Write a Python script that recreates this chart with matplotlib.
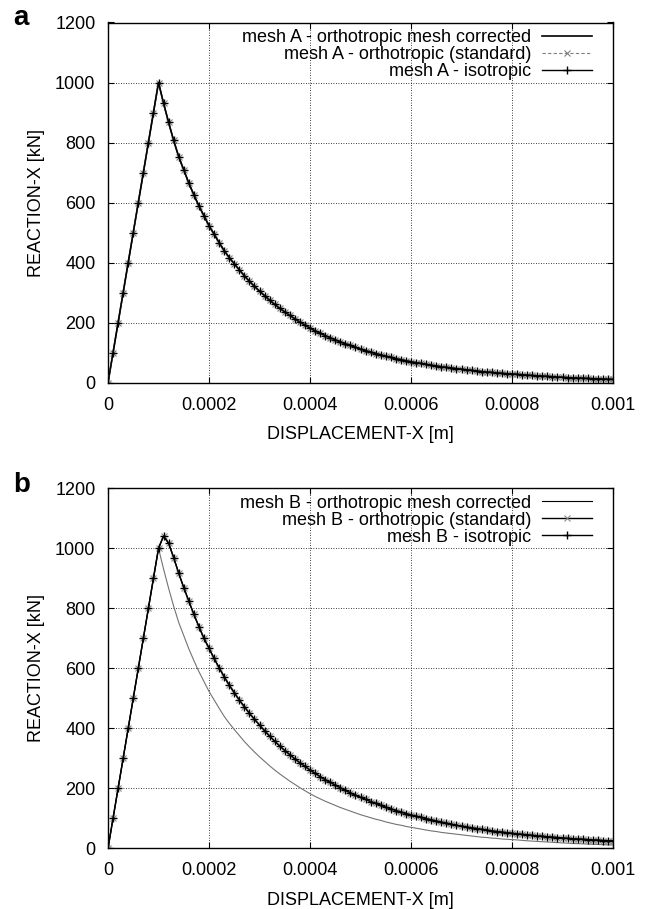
import matplotlib
matplotlib.use("Agg")
import matplotlib.pyplot as plt
import numpy as np

plt.rcParams['font.family'] = ['Liberation Sans', 'DejaVu Sans']

# ---------------- data ----------------
x_step = 1e-5
n_points = 101
displacement = [i * x_step for i in range(n_points)]

rise = [0, 100, 200, 300, 400, 500, 600, 700, 800, 900, 1000]

mesh_a_decay = [931, 867, 807, 753, 709, 665, 626, 589, 556, 523,
                495, 467, 440, 417, 396, 376, 356, 338, 321, 305,
                290, 275, 261, 248, 236, 224, 213, 202, 192, 182,
                173, 165, 157, 150, 143, 136, 130, 124, 118, 112,
                107, 102, 97, 93, 88, 84, 80, 77, 73, 70,
                67, 64, 61, 58, 56, 53, 51, 49, 47, 45,
                43, 41, 39, 37, 36, 34, 33, 31, 30, 29,
                28, 26.5, 25, 24, 23, 22, 21, 20, 19, 18,
                17, 16, 15.5, 15, 14, 13.5, 13, 12, 11.5, 11]

mesh_b_std_decay = [1041, 1017, 969, 917, 869, 824, 780, 739, 700, 667,
                    633, 602, 572, 544, 519, 494, 472, 450, 430, 411,
                    392, 374, 357, 341, 326, 312, 298, 285, 273, 261,
                    250, 239, 229, 220, 211, 202, 193, 185, 177, 170,
                    163, 156, 150, 143, 137, 132, 126, 121, 116, 111,
                    107, 103, 99, 95, 91, 87, 84, 80, 77, 74,
                    71, 68, 66, 63, 61, 58, 56, 54, 52, 50,
                    48, 46.5, 45, 43, 41.5, 40, 38.5, 37, 36, 34.5,
                    33, 32, 31, 30, 29, 28, 27, 26, 25.5, 25]

mesh_a_corrected = rise + mesh_a_decay
mesh_a_standard = rise + mesh_a_decay
mesh_a_isotropic = rise + mesh_a_decay

mesh_b_corrected = rise + mesh_a_decay
mesh_b_standard = rise + mesh_b_std_decay
mesh_b_isotropic = rise + mesh_b_std_decay

labels_a = ["mesh A - orthotropic mesh corrected",
            "mesh A - orthotropic (standard)",
            "mesh A - isotropic"]
labels_b = ["mesh B - orthotropic mesh corrected",
            "mesh B - orthotropic (standard)",
            "mesh B - isotropic"]

x_ticks = [0, 0.0002, 0.0004, 0.0006, 0.0008, 0.001]
x_ticklabels = ["0", "0.0002", "0.0004", "0.0006", "0.0008", "0.001"]
y_ticks = [0, 200, 400, 600, 800, 1000, 1200]
y_ticklabels = ["0", "200", "400", "600", "800", "1000", "1200"]

# ---------------- figure ----------------
W, H = 653, 909
fig = plt.figure(figsize=(W / 100, H / 100), dpi=100)

def px_axes(left, top, right, bottom):
    return fig.add_axes([left / W, 1 - bottom / H, (right - left) / W, (bottom - top) / H])

ax_a = px_axes(108, 22.5, 613, 382.7)
ax_b = px_axes(108, 488.3, 613, 848.3)

fs = 13

def style(ax):
    ax.set_xlim(0, 0.001)
    ax.set_ylim(0, 1200)
    ax.set_xticks(x_ticks)
    ax.set_xticklabels(x_ticklabels)
    ax.set_yticks(y_ticks)
    ax.set_yticklabels(y_ticklabels)
    ax.tick_params(direction='in', length=4, width=0.8, top=True, right=True,
                   labelsize=fs, colors='black')
    ax.tick_params(axis='x', pad=10)
    ax.tick_params(axis='y', pad=9)
    ax.grid(True, color='black', linestyle=(0, (1, 2)), linewidth=0.6)
    for s in ax.spines.values():
        s.set_linewidth(1.0)
        s.set_color('black')
    ax.set_xlabel("DISPLACEMENT-X [m]", fontsize=fs, labelpad=9)
    ax.set_ylabel("REACTION-X [kN]", fontsize=fs, labelpad=7.5)

# panel a
ax_a.plot(displacement, mesh_a_corrected, color='black', lw=1.2, label=labels_a[0], zorder=3)
ax_a.plot(displacement, mesh_a_standard, color='0.5', lw=0.8, ls=(0, (3, 2)), marker='x',
          ms=4.5, mew=0.8, label=labels_a[1], zorder=4)
ax_a.plot(displacement, mesh_a_isotropic, color='black', lw=1.0, marker='+',
          ms=5.5, mew=1.0, label=labels_a[2], zorder=5)

# panel b
ax_b.plot(displacement, mesh_b_corrected, color='0.45', lw=0.8, label=labels_b[0], zorder=3)
ax_b.plot(displacement, mesh_b_standard, color='black', lw=1.0, marker='x', mec='0.55',
          ms=4.5, mew=0.8, label=labels_b[1], zorder=4)
ax_b.plot(displacement, mesh_b_isotropic, color='black', lw=1.0, marker='+',
          ms=5.5, mew=1.0, label=labels_b[2], zorder=5)

legends = []
for ax in (ax_a, ax_b):
    style(ax)
    leg = ax.legend(loc='upper right', bbox_to_anchor=(0.958, 0.982), frameon=False,
                    markerfirst=False, fontsize=fs, handlelength=2.75, handletextpad=0.6,
                    labelspacing=0.0, borderpad=0, borderaxespad=0, numpoints=1)
    legends.append(leg)

legends[1].get_lines()[0].set_color('black')

fig.text(13 / W, 1 - 25 / H, "a", fontsize=20, fontweight='bold', ha='left', va='baseline')
fig.text(13 / W, 1 - 492 / H, "b", fontsize=20, fontweight='bold', ha='left', va='baseline')

fig.savefig("out.png", dpi=100)
